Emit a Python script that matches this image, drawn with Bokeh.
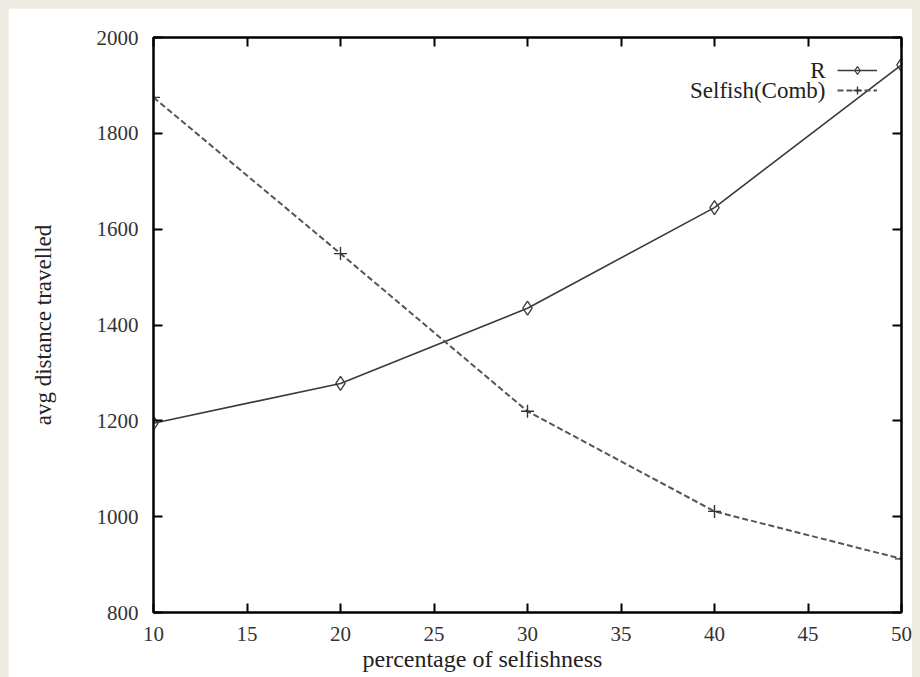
from bokeh.plotting import figure
from bokeh.models import (LinearAxis, Range1d, FixedTicker, Legend, LegendItem, Label, Title)
from bokeh.embed import file_html
from bokeh.resources import INLINE

# ---- data ----
x_pct = [10, 20, 30, 40, 50]
r_vals = [1195, 1278, 1435, 1645, 1943]
selfish_vals = [1875, 1549, 1220, 1011, 912]
x_ticks = [10, 15, 20, 25, 30, 35, 40, 45, 50]
y_ticks = [800, 1000, 1200, 1400, 1600, 1800, 2000]
x_label = "percentage of selfishness"
y_label = "avg distance travelled"
names = ["R", "Selfish(Comb)"]

FONT = "Liberation Serif"
FS = "21px"
LFS = "23px"

p = figure(width=912, height=669, output_backend="svg", toolbar_location=None,
           x_range=Range1d(10, 50), y_range=Range1d(800, 2000),
           min_border_left=145, min_border_right=19, min_border_top=29, min_border_bottom=65)
p.background_fill_color = "white"
p.border_fill_color = "white"
p.outline_line_color = "black"
p.outline_line_width = 2
p.grid.visible = False

for ax in [p.xaxis[0], p.yaxis[0]]:
    ax.axis_line_width = 2
    ax.major_tick_line_width = 2
    ax.major_tick_in = 9
    ax.major_tick_out = 0
    ax.minor_tick_line_color = None
    ax.major_label_text_font = FONT
    ax.major_label_text_font_size = FS
    ax.major_label_text_color = "#333333"
    ax.axis_label_text_font = FONT
    ax.axis_label_text_font_size = LFS
    ax.axis_label_text_font_style = "normal"
    ax.axis_label_text_color = "#222222"

p.xaxis[0].ticker = FixedTicker(ticks=x_ticks)
p.yaxis[0].ticker = FixedTicker(ticks=y_ticks)
p.yaxis[0].axis_label = y_label
p.xaxis[0].major_label_standoff = 14
p.yaxis[0].major_label_standoff = 15
p.yaxis[0].axis_label_standoff = 38

blank_x = {t: "" for t in x_ticks}
blank_y = {t: "" for t in y_ticks}
top = LinearAxis(ticker=FixedTicker(ticks=x_ticks), axis_line_width=2, major_tick_line_width=2,
                 major_tick_in=9, major_tick_out=0, minor_tick_line_color=None,
                 major_label_overrides=blank_x, major_label_standoff=0)
right = LinearAxis(ticker=FixedTicker(ticks=y_ticks), axis_line_width=2, major_tick_line_width=2,
                   major_tick_in=9, major_tick_out=0, minor_tick_line_color=None,
                   major_label_overrides=blank_y, major_label_standoff=0)
p.add_layout(top, "above")
p.add_layout(right, "right")

r_line = p.line(x_pct, r_vals, line_color="#3a3a3a", line_width=1.6)
r_mark = p.scatter(x_pct, r_vals, marker="diamond", size=14, line_color="#3a3a3a",
                   line_width=1.3, fill_color=None)
s_line = p.line(x_pct, selfish_vals, line_color="#555555", line_width=2, line_dash="6 3")
s_mark = p.scatter(x_pct, selfish_vals, marker="cross", size=13, line_color="#333333",
                   line_width=1.4)

legend = Legend(items=[LegendItem(label=" ", renderers=[r_line, r_mark]),
                       LegendItem(label=" ", renderers=[s_line, s_mark])],
                location=(684, 512), glyph_width=40, glyph_height=20, label_width=0,
                label_height=20, label_standoff=0, padding=0, spacing=0, margin=0,
                label_text_font_size="6px", border_line_color=None,
                background_fill_color=None, background_fill_alpha=0)
p.add_layout(legend, "center")

for name, yy in zip(names, [542, 522]):
    p.add_layout(Label(x=672, y=yy, x_units="screen", y_units="screen", text=name,
                       text_align="right", text_baseline="middle", text_font=FONT,
                       text_font_size=LFS, text_color="#222222"))

# x-axis title, placed where the reference places it
p.add_layout(Title(text=x_label, align="left", offset=209, standoff=0,
                   text_font=FONT, text_font_size="24px", text_font_style="normal",
                   text_color="#222222"), "below")

html = file_html(p, INLINE)
html = html.replace("<head>", "<head><style>html,body{background:#eeece2 !important;overflow:hidden;}"
                    " body{margin:8px !important;padding:0 !important;}</style>", 1)
open("out.html", "w").write(html)
